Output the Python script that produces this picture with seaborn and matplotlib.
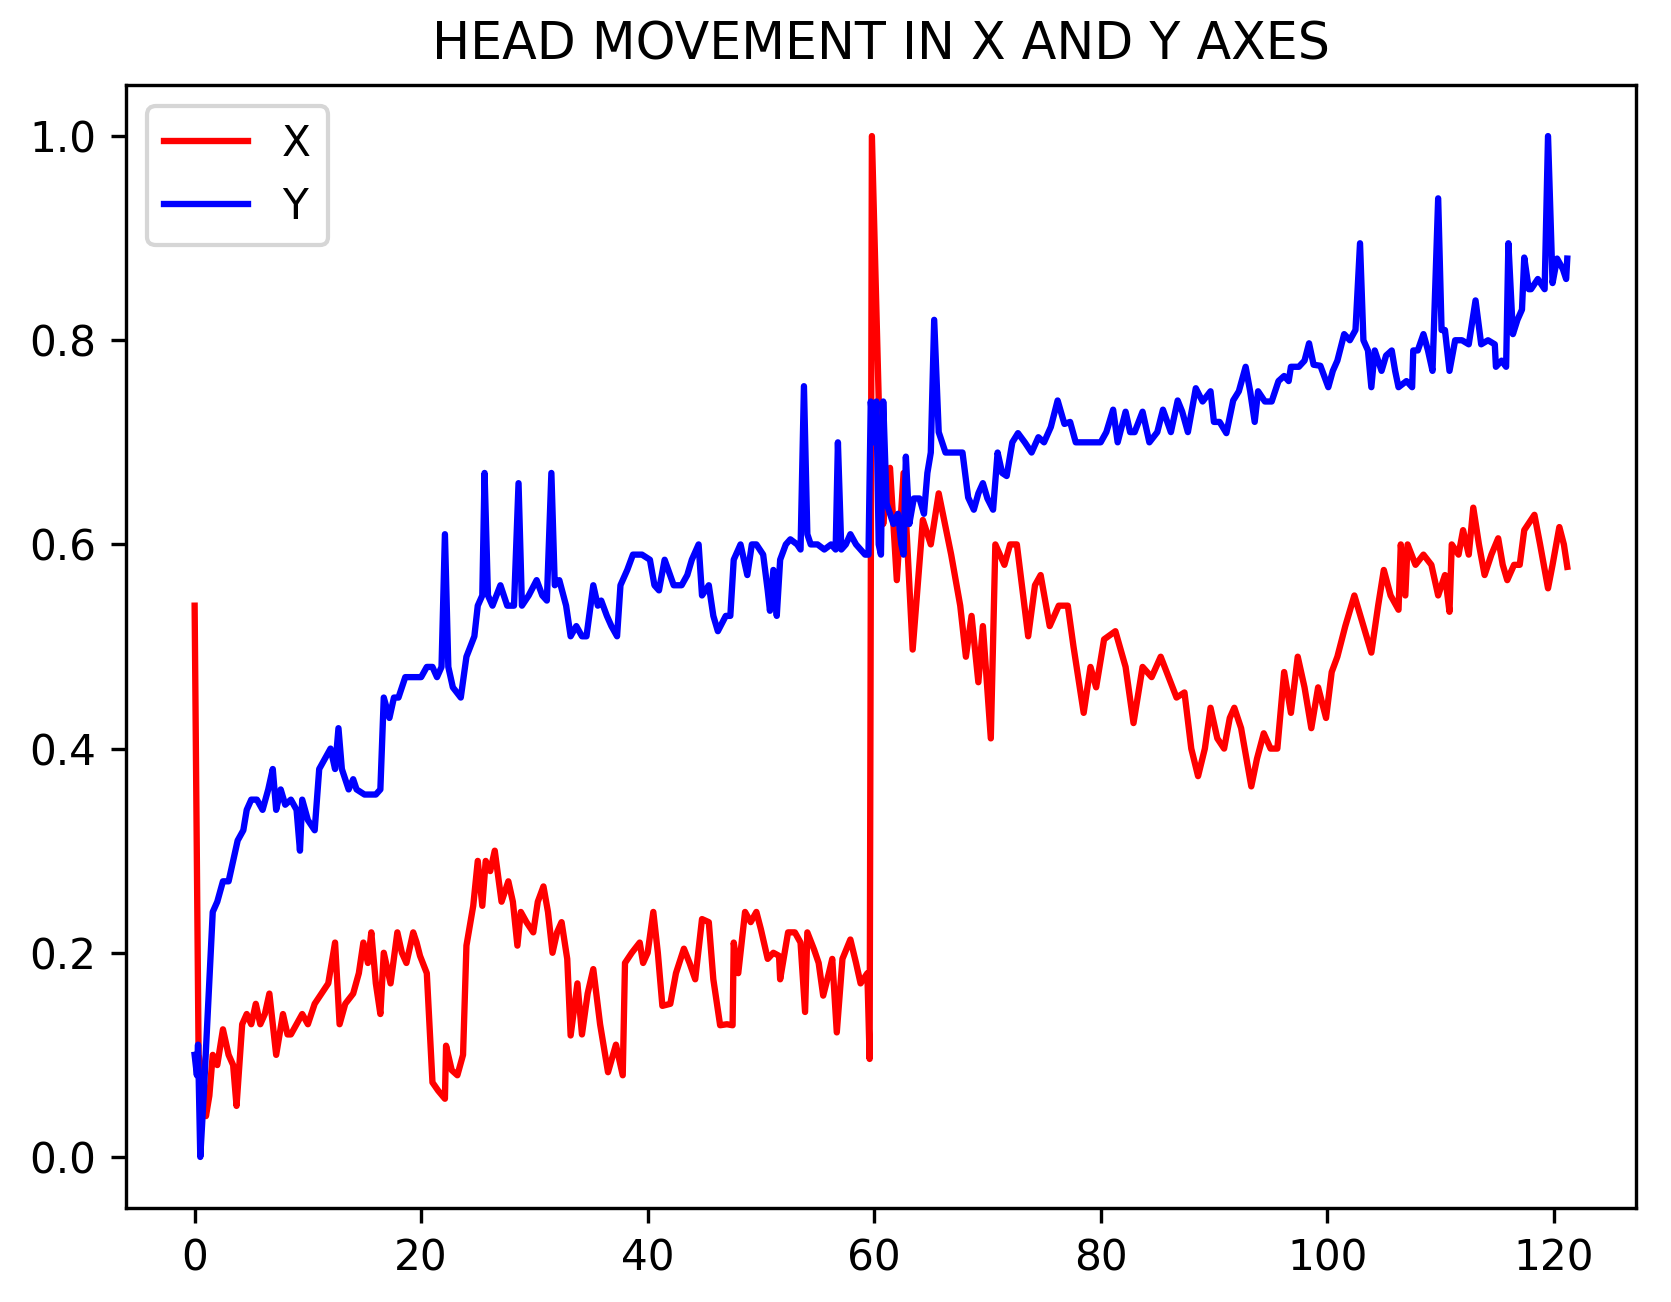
import numpy as np
import pandas as pd
import seaborn as sns
import matplotlib
matplotlib.use('Agg')
import matplotlib.pyplot as plt

# (time, normalised position)
x_points = [
    (0, 0.54), (0.35, 0.10), (0.7, 0.08), (1.0, 0.04), (1.3, 0.06), (1.6, 0.10), (2.0, 0.09),
    (2.5, 0.125), (3.0, 0.10), (3.4, 0.09), (3.7, 0.05), (4.2, 0.13), (4.6, 0.14), (5.0, 0.13),
    (5.4, 0.15), (5.8, 0.13), (6.2, 0.14), (6.6, 0.16), (7.0, 0.12), (7.2, 0.10), (7.8, 0.14),
    (8.2, 0.12), (8.5, 0.12), (9.0, 0.13), (9.5, 0.14), (10.0, 0.13), (10.6, 0.15), (11.2, 0.16),
    (11.8, 0.17), (12.4, 0.21), (12.8, 0.13), (13.3, 0.15), (14.0, 0.16), (14.5, 0.18), (14.9, 0.21),
    (15.3, 0.19), (15.6, 0.22), (16.0, 0.17), (16.4, 0.14), (16.7, 0.20), (17.3, 0.17), (17.9, 0.22),
    (18.3, 0.20), (18.7, 0.19), (19.3, 0.22), (19.6, 0.21), (19.9, 0.197), (20.5, 0.18), (21.0, 0.073),
    (21.5, 0.065), (22.1, 0.057), (22.2, 0.109), (22.7, 0.085), (23.2, 0.08), (23.7, 0.10),
    (24.0, 0.207), (24.6, 0.246), (25.0, 0.29), (25.4, 0.246), (25.7, 0.29), (26.1, 0.28),
    (26.5, 0.30), (27.1, 0.25), (27.7, 0.27), (28.1, 0.25), (28.5, 0.207), (28.8, 0.24), (29.3, 0.23),
    (29.9, 0.22), (30.3, 0.25), (30.8, 0.265), (31.2, 0.24), (31.6, 0.20), (32.0, 0.22), (32.4, 0.23),
    (32.9, 0.194), (33.2, 0.119), (33.8, 0.17), (34.2, 0.12), (34.7, 0.16), (35.2, 0.184),
    (35.8, 0.13), (36.5, 0.083), (37.2, 0.11), (37.8, 0.08), (38.0, 0.19), (38.6, 0.20), (39.3, 0.21),
    (39.6, 0.19), (40.0, 0.20), (40.5, 0.24), (40.9, 0.20), (41.3, 0.148), (42.0, 0.15), (42.5, 0.18),
    (43.2, 0.204), (43.7, 0.19), (44.2, 0.174), (44.8, 0.233), (45.4, 0.23), (45.8, 0.174),
    (46.4, 0.129), (47.0, 0.13), (47.5, 0.129), (47.6, 0.21), (48.0, 0.18), (48.6, 0.24), (49.1, 0.23),
    (49.6, 0.24), (50.0, 0.223), (50.6, 0.194), (51.1, 0.20), (51.6, 0.197), (51.7, 0.174),
    (52.4, 0.22), (53.0, 0.22), (53.5, 0.21), (53.9, 0.142), (54.1, 0.22), (54.7, 0.203), (55.1, 0.19),
    (55.5, 0.158), (56.0, 0.18), (56.3, 0.194), (56.7, 0.122), (57.2, 0.194), (57.9, 0.213),
    (58.4, 0.19), (58.8, 0.17), (59.4, 0.18), (59.6, 0.096), (59.8, 1.0), (60.5, 0.70), (60.8, 0.62),
    (61.1, 0.66), (61.4, 0.675), (62.0, 0.565), (62.6, 0.67), (63.4, 0.497), (64.3, 0.624),
    (65.0, 0.60), (65.7, 0.65), (66.8, 0.59), (67.6, 0.54), (68.1, 0.49), (68.6, 0.53), (69.2, 0.465),
    (69.6, 0.52), (70.3, 0.41), (70.7, 0.60), (71.5, 0.58), (72.0, 0.60), (72.6, 0.60), (73.6, 0.51),
    (74.2, 0.56), (74.7, 0.57), (75.5, 0.52), (76.3, 0.54), (77.1, 0.54), (77.6, 0.50), (78.5, 0.435),
    (79.1, 0.48), (79.6, 0.46), (80.3, 0.507), (81.3, 0.515), (82.2, 0.48), (82.9, 0.425),
    (83.7, 0.48), (84.5, 0.47), (85.3, 0.49), (86.0, 0.47), (86.7, 0.45), (87.4, 0.455), (88.0, 0.40),
    (88.6, 0.373), (89.2, 0.40), (89.7, 0.44), (90.3, 0.41), (90.9, 0.40), (91.4, 0.43), (91.8, 0.44),
    (92.4, 0.42), (93.3, 0.363), (93.8, 0.39), (94.4, 0.415), (95.0, 0.40), (95.6, 0.40),
    (96.2, 0.475), (96.8, 0.435), (97.4, 0.49), (98.0, 0.46), (98.6, 0.42), (99.2, 0.46), (99.9, 0.43),
    (100.4, 0.475), (100.9, 0.49), (101.6, 0.52), (102.4, 0.55), (103.2, 0.52), (103.9, 0.494),
    (104.5, 0.54), (105.0, 0.575), (105.6, 0.55), (106.3, 0.536), (106.5, 0.60), (106.9, 0.55),
    (107.1, 0.60), (107.8, 0.58), (108.5, 0.59), (109.2, 0.58), (109.8, 0.55), (110.4, 0.57),
    (110.8, 0.534), (111.0, 0.60), (111.6, 0.59), (112.0, 0.614), (112.5, 0.59), (112.9, 0.636),
    (113.4, 0.60), (113.9, 0.57), (114.5, 0.59), (115.1, 0.606), (115.5, 0.58), (115.9, 0.565),
    (116.5, 0.58), (117.0, 0.58), (117.4, 0.614), (118.3, 0.629), (118.8, 0.60), (119.5, 0.557),
    (119.9, 0.58), (120.5, 0.617), (120.9, 0.60), (121.2, 0.578),
]

y_points = [
    (0, 0.10), (0.2, 0.08), (0.3, 0.11), (0.5, 0.0), (0.8, 0.06), (1.2, 0.15), (1.6, 0.24),
    (2.0, 0.25), (2.5, 0.27), (3.0, 0.27), (3.4, 0.29), (3.8, 0.31), (4.3, 0.32), (4.6, 0.34),
    (5.0, 0.35), (5.5, 0.35), (6.0, 0.34), (6.5, 0.36), (6.9, 0.38), (7.2, 0.34), (7.6, 0.36),
    (8.0, 0.345), (8.5, 0.35), (9.0, 0.34), (9.3, 0.30), (9.5, 0.35), (10.0, 0.33), (10.6, 0.32),
    (11.0, 0.38), (11.5, 0.39), (12.0, 0.40), (12.4, 0.38), (12.7, 0.42), (13.0, 0.38), (13.6, 0.36),
    (14.0, 0.37), (14.3, 0.36), (15.0, 0.355), (16.0, 0.355), (16.4, 0.36), (16.7, 0.45),
    (17.2, 0.43), (17.6, 0.45), (18.0, 0.45), (18.6, 0.47), (19.3, 0.47), (20.0, 0.47), (20.5, 0.48),
    (21.0, 0.48), (21.4, 0.47), (21.8, 0.48), (22.1, 0.61), (22.4, 0.48), (22.8, 0.46), (23.5, 0.45),
    (24.0, 0.49), (24.7, 0.51), (25.0, 0.54), (25.4, 0.55), (25.6, 0.67), (25.9, 0.55), (26.3, 0.54),
    (27.0, 0.56), (27.6, 0.54), (28.2, 0.54), (28.6, 0.66), (28.9, 0.54), (29.5, 0.55), (30.2, 0.565),
    (30.7, 0.55), (31.1, 0.545), (31.5, 0.67), (31.8, 0.56), (32.2, 0.565), (32.8, 0.54), (33.2, 0.51),
    (33.7, 0.52), (34.2, 0.51), (34.6, 0.51), (35.2, 0.56), (35.6, 0.54), (35.9, 0.545), (36.4, 0.53),
    (36.8, 0.52), (37.3, 0.51), (37.6, 0.56), (38.2, 0.575), (38.7, 0.59), (39.5, 0.59),
    (40.2, 0.585), (40.6, 0.56), (41.0, 0.555), (41.5, 0.585), (42.3, 0.56), (43.0, 0.56),
    (43.5, 0.57), (43.9, 0.585), (44.5, 0.60), (44.8, 0.55), (45.4, 0.56), (45.8, 0.53), (46.2, 0.515),
    (46.9, 0.53), (47.3, 0.53), (47.6, 0.585), (48.2, 0.60), (48.8, 0.57), (49.2, 0.60), (49.6, 0.60),
    (50.2, 0.59), (50.6, 0.555), (50.8, 0.535), (51.1, 0.575), (51.4, 0.53), (51.7, 0.585),
    (52.2, 0.60), (52.6, 0.605), (53.2, 0.60), (53.5, 0.595), (53.8, 0.755), (54.1, 0.61), (54.4, 0.60),
    (55.0, 0.60), (55.6, 0.595), (56.2, 0.60), (56.6, 0.595), (56.8, 0.70), (57.1, 0.595), (57.5, 0.60),
    (57.9, 0.61), (58.4, 0.60), (58.8, 0.595), (59.2, 0.59), (59.5, 0.59), (59.7, 0.74), (60.0, 0.70),
    (60.2, 0.74), (60.4, 0.60), (60.6, 0.59), (60.8, 0.74), (61.1, 0.64), (61.4, 0.63), (61.7, 0.62),
    (62.1, 0.63), (62.4, 0.60), (62.6, 0.59), (62.8, 0.686), (63.1, 0.62), (63.5, 0.645), (64.0, 0.645),
    (64.4, 0.63), (64.7, 0.67), (65.0, 0.69), (65.3, 0.82), (65.7, 0.71), (66.3, 0.69), (67.0, 0.69),
    (67.8, 0.69), (68.3, 0.646), (68.8, 0.634), (69.2, 0.65), (69.6, 0.66), (70.0, 0.645),
    (70.5, 0.634), (70.9, 0.69), (71.3, 0.67), (71.7, 0.667), (72.2, 0.70), (72.7, 0.709), (73.3, 0.70),
    (73.9, 0.69), (74.5, 0.705), (75.0, 0.70), (75.6, 0.715), (76.2, 0.741), (76.8, 0.718),
    (77.3, 0.72), (77.8, 0.70), (78.5, 0.70), (79.2, 0.70), (80.0, 0.70), (80.5, 0.71), (81.1, 0.732),
    (81.5, 0.70), (82.2, 0.73), (82.6, 0.71), (83.0, 0.71), (83.7, 0.73), (84.3, 0.70), (85.0, 0.71),
    (85.5, 0.732), (86.2, 0.71), (86.8, 0.741), (87.2, 0.73), (87.7, 0.71), (88.4, 0.753), (89.0, 0.74),
    (89.7, 0.75), (90.0, 0.72), (90.5, 0.72), (91.1, 0.709), (91.7, 0.741), (92.2, 0.75), (92.8, 0.774),
    (93.2, 0.75), (93.6, 0.72), (93.9, 0.75), (94.5, 0.74), (95.1, 0.74), (95.7, 0.76), (96.2, 0.765),
    (96.6, 0.76), (96.8, 0.774), (97.5, 0.774), (98.0, 0.78), (98.4, 0.797), (98.8, 0.776),
    (99.4, 0.775), (100.1, 0.754), (100.5, 0.77), (100.9, 0.78), (101.5, 0.806), (102.0, 0.80),
    (102.5, 0.81), (102.9, 0.895), (103.2, 0.80), (103.6, 0.79), (103.9, 0.754), (104.2, 0.79),
    (104.8, 0.77), (105.2, 0.785), (105.7, 0.79), (106.0, 0.77), (106.3, 0.754), (107.0, 0.76),
    (107.5, 0.754), (107.6, 0.79), (108.0, 0.79), (108.5, 0.806), (108.9, 0.79), (109.3, 0.77),
    (109.8, 0.939), (110.1, 0.81), (110.4, 0.81), (110.8, 0.77), (111.3, 0.80), (111.9, 0.80),
    (112.5, 0.796), (113.1, 0.839), (113.6, 0.796), (114.2, 0.80), (114.8, 0.796), (114.9, 0.774),
    (115.4, 0.78), (115.8, 0.774), (116.0, 0.895), (116.4, 0.806), (116.8, 0.82), (117.2, 0.83),
    (117.4, 0.881), (117.8, 0.85), (118.0, 0.85), (118.6, 0.86), (119.2, 0.85), (119.5, 1.0),
    (119.9, 0.856), (120.3, 0.88), (120.8, 0.87), (121.1, 0.86), (121.2, 0.88),
]

series_names = ['X', 'Y']
series_colors = {'X': 'red', 'Y': 'blue'}


def plot_head_movement():
    frames = []
    for name, points in zip(series_names, [x_points, y_points]):
        t, v = zip(*points)
        frames.append(pd.DataFrame({'time': t, 'value': v, 'axis': name}))
    df = pd.concat(frames, ignore_index=True)

    # default matplotlib look, scaled up ~3x through the dpi
    fig = plt.figure(figsize=(1671 / 304, 1302 / 304), dpi=304, facecolor='white')
    fig.subplots_adjust(left=0.0754, right=0.979, bottom=0.0722, top=0.9347)
    ax = fig.add_subplot(111)

    sns.lineplot(data=df, x='time', y='value', hue='axis', palette=series_colors,
                 estimator=None, sort=False, linewidth=1.5, ax=ax)
    ax.set_xlabel('')
    ax.set_ylabel('')
    handles, labels = ax.get_legend_handles_labels()
    ax.legend(handles, labels, loc='upper left')
    ax.set_title('HEAD MOVEMENT IN X AND Y AXES')

    plt.savefig('out.png', dpi=304)


if __name__ == '__main__':
    plot_head_movement()
